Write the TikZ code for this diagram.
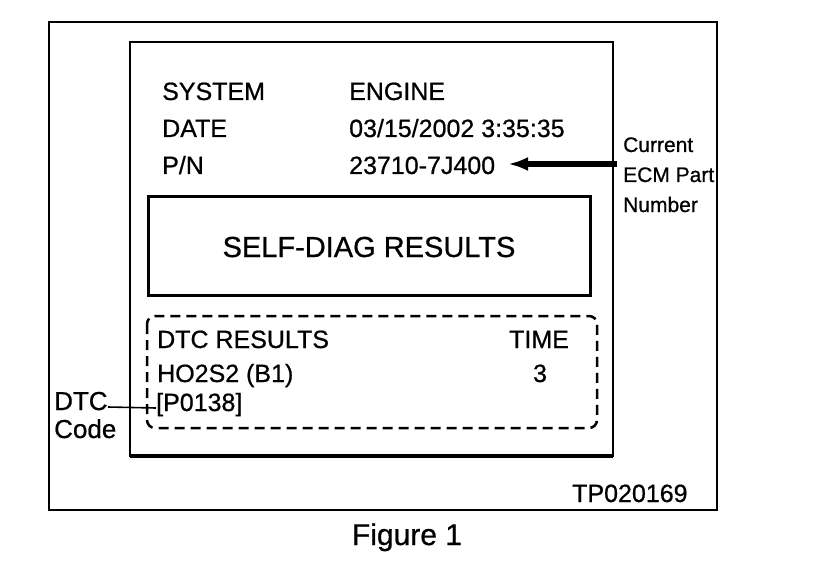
\documentclass[tikz,border=0pt]{standalone}
\usepackage{fontspec}
\setmainfont{Liberation Sans}[BoldFont={Liberation Sans},BoldFeatures={FakeBold=0.7}]
\usetikzlibrary{arrows.meta}
\begin{document}
\begin{tikzpicture}[x=1pt,y=-1pt,
  txt/.style={inner sep=0pt, anchor=base west, font=\fontsize{25}{30}\selectfont\bfseries},
  ctxt/.style={inner sep=0pt, anchor=base, font=\fontsize{25}{30}\selectfont\bfseries},
  lbl/.style={inner sep=0pt, anchor=base west, font=\fontsize{21}{25}\selectfont\bfseries},
  frame/.style={draw, line width=2pt},
  heavybox/.style={draw, line width=3pt},
  dashbox/.style={draw, line width=2.5pt, dash pattern=on 10pt off 6pt, rounded corners=8pt},
  fatarrow/.style={line width=5.5pt, -{Latex[length=20pt,width=14pt]}},
  leader/.style={line width=1.6pt}]
\useasboundingbox (0,0) rectangle (816,572);
% outer frame
\draw[frame] (49,22) rectangle (717,510);
% inner screen
\draw[frame] (130,42) rectangle (613,456);
\draw[line width=3.5pt] (130,456) -- (613,456);
% header text
\node[txt] (sys) at (162,100) {SYSTEM};
\node[txt] (sysv) at (349,100) {ENGINE};
\node[txt] (date) at (162,137) {DATE};
\node[txt] (datev) at (349,137) {03/15/2002 3:35:35};
\node[txt] (pn) at (162,174) {P/N};
\node[txt] (pnv) at (349,174) {23710-7J400};
% self diag box
\draw[heavybox] (148,197) rectangle (590,295);
\node[inner sep=0pt, anchor=base, font=\fontsize{29}{34}\selectfont\bfseries] (sd) at (369,257) {SELF-DIAG RESULTS};
% dashed results box
\draw[dashbox] (147,316) rectangle (597,428);
\node[txt] (dtcr) at (157,348) {DTC RESULTS};
\node[txt] (time) at (509,348) {TIME};
\node[txt] (ho) at (157,382) {HO2S2 (B1)};
\node[ctxt] (three) at (540,382) {3};
\node[txt] (code) at (156,411) {[P0138]};
% callout: Current ECM Part Number
\node[lbl] (cur1) at (623,152) {Current};
\node[lbl] (cur2) at (623,182) {ECM Part};
\node[lbl] (cur3) at (623,212) {Number};
\coordinate (arrS) at (617,164);
\coordinate (arrE) at (508,164);
\draw[fatarrow] (arrS) -- (arrE);
% callout: DTC Code
\node[inner sep=0pt, anchor=base west, font=\fontsize{26}{30}\selectfont\bfseries] (dtc) at (54,410) {DTC};
\node[inner sep=0pt, anchor=base west, font=\fontsize{26}{30}\selectfont\bfseries] (codel) at (54,438) {Code};
\draw[leader] ([yshift=3pt]dtc.base east) -- ([yshift=3pt]code.base west);
% figure id
\node[txt] (tp) at (572,502) {TP020169};
\node[inner sep=0pt, anchor=base, font=\fontsize{30}{36}\selectfont\bfseries] (fig) at (407,545) {Figure 1};
\end{tikzpicture}
\end{document}
